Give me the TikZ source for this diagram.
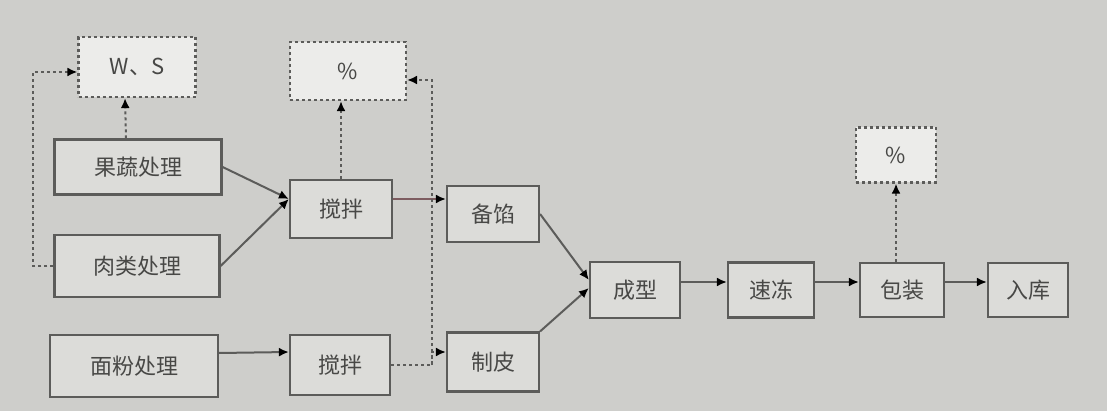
\documentclass[tikz,border=0pt]{standalone}
\usepackage{fontspec}
\newfontfamily\cjk{Noto Sans CJK SC}
\usetikzlibrary{arrows.meta}
\definecolor{bg}{RGB}{206,206,203}
\definecolor{boxfill}{RGB}{220,220,217}
\definecolor{boxline}{RGB}{92,92,90}
\definecolor{ink}{RGB}{72,72,70}
\definecolor{mixline}{RGB}{125,92,96}

\begin{document}
\begin{tikzpicture}[x=1pt,y=-1pt,
	every node/.style={draw=boxline, fill=boxfill, line width=2.2pt, text=ink, inner sep=0pt,
		font=\cjk\fontsize{22}{24}\selectfont},
	note/.style={dash pattern=on 3pt off 3pt, fill=boxfill!55!white},
	flow/.style={draw=boxline, line width=2pt, -{Latex[length=10pt,width=9pt,color=black]}},
	check/.style={draw=boxline, line width=2pt, dash pattern=on 3pt off 3pt, -{Latex[length=10pt,width=9pt,color=black]}}]
	
	\fill[bg] (0,0) rectangle (1107,411);
	\useasboundingbox (0,0) rectangle (1107,411);
	
	\node[minimum width=167pt, minimum height=55pt] (1) at (138,167) {果蔬处理};
	\node[minimum width=165pt, minimum height=62pt] (2) at (137,266) {肉类处理};
	\node[minimum width=168pt, minimum height=62pt] (3) at (134,366) {面粉处理};
	\node[minimum width=102pt, minimum height=58pt] (4) at (341,209) {搅拌};
	\node[minimum width=100pt, minimum height=60pt] (5) at (340,365) {搅拌};
	\node[minimum width=92pt, minimum height=56pt] (6) at (493,214) {备馅};
	\node[minimum width=92pt, minimum height=59pt] (7) at (493,362) {制皮};
	\node[minimum width=90pt, minimum height=56pt] (8) at (635,290) {成型};
	\node[minimum width=86pt, minimum height=55pt] (9) at (771,290) {速冻};
	\node[minimum width=84pt, minimum height=54pt] (10) at (902,290) {包装};
	\node[minimum width=80pt, minimum height=54pt] (11) at (1028,290) {入库};
	\node[note, minimum width=117pt, minimum height=60pt] (12) at (137,67) {W、S};
	\node[note, minimum width=116pt, minimum height=58pt] (13) at (348,71) {\%};
	\node[note, minimum width=80pt, minimum height=55pt] (14) at (896,155) {\%};
	\coordinate (15) at (432,365);
	
	\path (1.east) edge[flow] ([yshift=10pt]4.west);
	\path (2.east) edge[flow] ([yshift=10pt]4.west);
	\path ([yshift=10pt]4.east) edge[flow, draw=mixline] ([yshift=15pt]6.west);
	\path ([yshift=13pt]3.east) edge[flow] ([yshift=13pt]5.west);
	\path (6.east) edge[flow] ([yshift=10pt]8.west);
	\path (7.north east) edge[flow] ([yshift=2pt]8.west);
	\path ([yshift=8pt]8.east) edge[flow] ([yshift=8pt]9.west);
	\path ([yshift=8pt]9.east) edge[flow] ([yshift=8pt]10.west);
	\path ([yshift=8pt]10.east) edge[flow] ([yshift=8pt]11.west);
	
	\draw[check] ([xshift=-12pt]1.north) -- ([xshift=-12pt]12.south);
	\draw[check] (2.west) -- ++(-20,0) |- ([yshift=-5pt]12.west);
	\draw[check] (4.north) -- (4.north |- 13.south);
	\draw[check] (5.east) -- (15) |- ([yshift=-9pt]13.east);
	\draw[check] (15) |- ([yshift=10pt]7.west);
	\draw[check] (10.north -| 14.south) -- (14.south);
	
\end{tikzpicture}
\end{document}
